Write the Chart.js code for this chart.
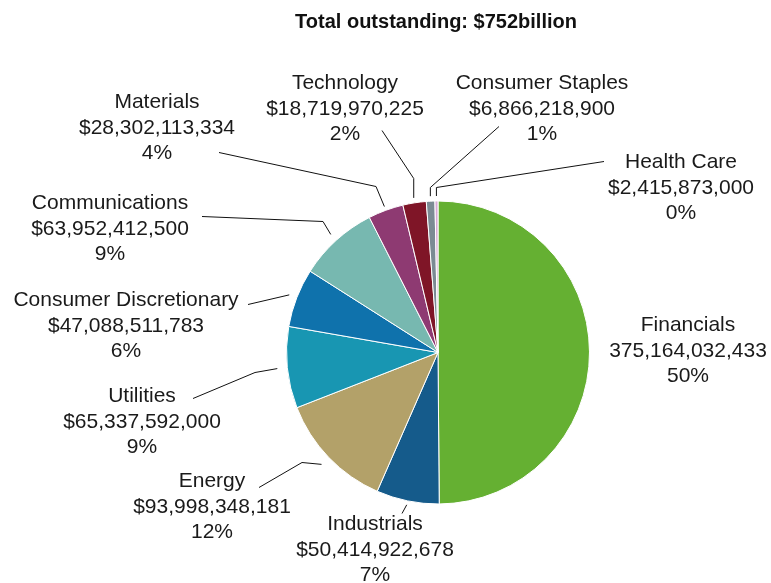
<!DOCTYPE html>
<html>
<head>
<meta charset="utf-8">
<script src="https://cdn.jsdelivr.net/npm/chart.js@4.4.1/dist/chart.umd.min.js"></script>
<style>
  body { margin: 0; background: #fff; }
  #wrap { width: 771px; height: 583px; position: relative; }
</style>
</head>
<body>
<div id="wrap"><canvas id="sectorChart"></canvas></div>
<script>
// Datos del gráfico
const titleText = 'Total outstanding: $752billion';
const sectors = ['Financials', 'Industrials', 'Energy', 'Utilities', 'Consumer Discretionary',
    'Communications', 'Materials', 'Technology', 'Consumer Staples', 'Health Care'];
const amounts = [375164032433, 50414922678, 93998348181, 65337592000, 47088511783,
    63952412500, 28302113334, 18719970225, 6866218900, 2415873000];
const amountPrefix = ['', '$', '$', '$', '$', '$', '$', '$', '$', '$'];
const colors = ['#65b032', '#155b8b', '#b3a169', '#1896b2', '#0f72ac',
    '#77b8b0', '#8e3a72', '#7f1527', '#7b8b94', '#d8aad6'];

// Posición de las etiquetas (px respecto al centro del pastel)
// label: centro de la primera línea, gap: separación desde el borde,
// elbow: codo de la línea (elbowY = vertical desde el inicio), end: fin de la línea junto al texto
const labelLayout = [
    { label: [250, -27] },
    { label: [-63, 172], gap: 4, end: [-36, 161] },
    { label: [-226, 129], gap: 10, elbow: [-136, 110], end: [-179, 135] },
    { label: [-296, 44], gap: 10, elbow: [-183, 20], end: [-245, 46] },
    { label: [-312, -52], gap: 8, end: [-190, -48] },
    { label: [-328, -149], gap: 8, elbow: [-115, -131], end: [-236, -136] },
    { label: [-281, -250], gap: 4, elbow: [-62, -166], end: [-219, -200] },
    { label: [-93, -269], gap: 5, elbowY: -174, end: [-56, -222] },
    { label: [104, -269], gap: 5, elbowY: -165, end: [61, -226] },
    { label: [243, -190], gap: 5, elbowY: -165, end: [166, -191] }
];

const total = amounts.reduce((a, b) => a + b, 0);
const FONT = '21px "Liberation Sans", Arial, sans-serif';
const LINE_H = 25.5;

const labelPlugin = {
    id: 'sectorLabels',
    afterDraw(chart) {
        const ctx = chart.ctx;
        const arcs = chart.getDatasetMeta(0).data;
        ctx.save();
        // título
        ctx.fillStyle = '#111';
        ctx.font = 'bold 20px "Liberation Sans", Arial, sans-serif';
        ctx.textAlign = 'center';
        ctx.textBaseline = 'middle';
        ctx.fillText(titleText, 436, 22);

        arcs.forEach((arc, i) => {
            const lay = labelLayout[i];
            const cx = arc.x, cy = arc.y;
            const mid = (arc.startAngle + arc.endAngle) / 2;

            // línea guía
            if (lay.end) {
                const r = arc.outerRadius + lay.gap;
                const sx = cx + Math.cos(mid) * r;
                const sy = cy + Math.sin(mid) * r;
                ctx.beginPath();
                ctx.strokeStyle = '#111';
                ctx.lineWidth = 1;
                ctx.moveTo(sx, sy);
                if (lay.elbow) ctx.lineTo(cx + lay.elbow[0], cy + lay.elbow[1]);
                if (lay.elbowY !== undefined) ctx.lineTo(sx, cy + lay.elbowY);
                ctx.lineTo(cx + lay.end[0], cy + lay.end[1]);
                ctx.stroke();
            }

            // texto
            const pct = Math.round(amounts[i] / total * 100) + '%';
            const lines = [sectors[i], amountPrefix[i] + amounts[i].toLocaleString('en-US'), pct];
            ctx.font = FONT;
            ctx.fillStyle = '#1a1a1a';
            lines.forEach((t, k) => {
                ctx.fillText(t, cx + lay.label[0], cy + lay.label[1] + k * LINE_H);
            });
        });
        ctx.restore();
    }
};

const ctx = document.getElementById('sectorChart').getContext('2d');
const sectorChart = new Chart(ctx, {
    type: 'pie',
    data: {
        labels: sectors,
        datasets: [{
            data: amounts,
            backgroundColor: colors,
            borderColor: '#ffffff',
            borderWidth: 1
        }]
    },
    options: {
        responsive: true,
        maintainAspectRatio: false,
        animation: false,
        layout: { padding: { left: 286, right: 181, top: 200, bottom: 78 } },
        plugins: {
            legend: { display: false },
            tooltip: { enabled: false }
        }
    },
    plugins: [labelPlugin]
});
</script>
</body>
</html>
